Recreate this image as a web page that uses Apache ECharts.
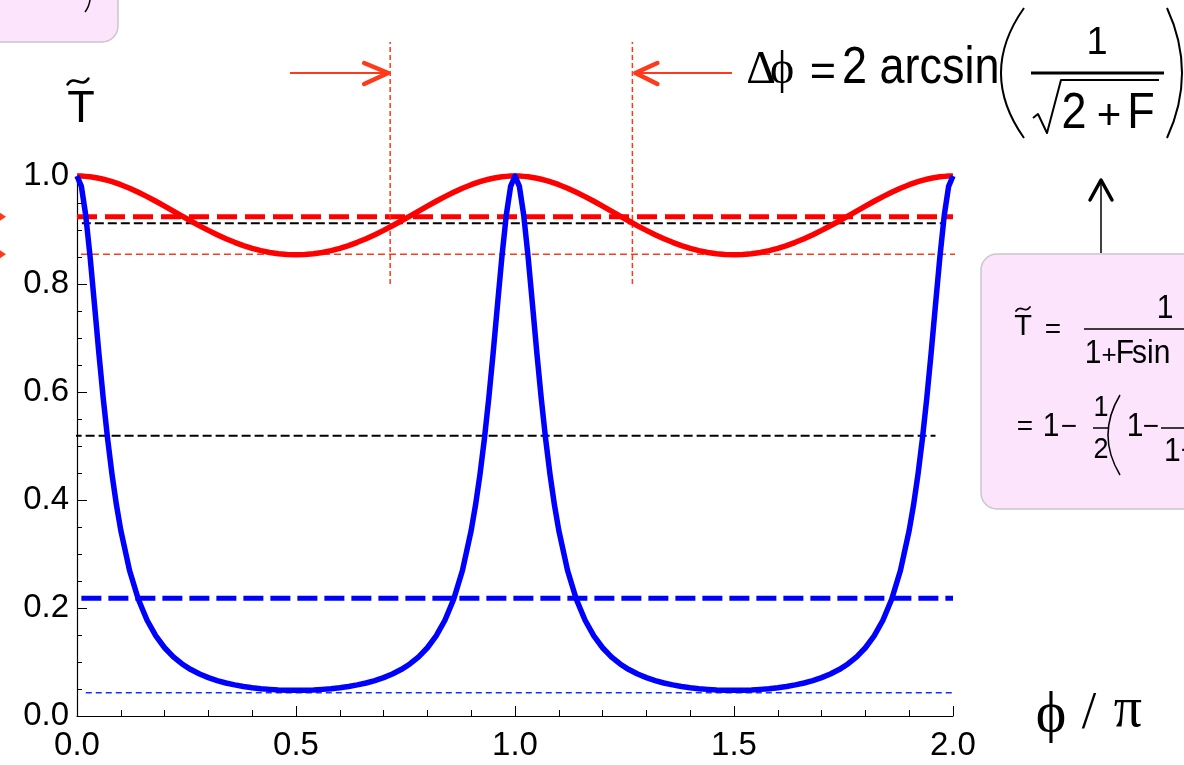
<!DOCTYPE html>
<html>
<head>
<meta charset="utf-8">
<script src="https://cdn.jsdelivr.net/npm/echarts@6/dist/echarts.min.js"></script>
<style>
  html, body { margin: 0; padding: 0; background: #fff; }
  #chart { width: 1184px; height: 765px; }
</style>
</head>
<body>
<div id="chart"></div>
<script>
// Phase φ/π sample positions (denser around the transmission peaks)
const phi = [
  0, 0.01, 0.02, 0.03, 0.04, 0.05, 0.06, 0.07, 0.08, 0.09, 0.10,
  0.12, 0.14, 0.16, 0.18, 0.20, 0.22, 0.24, 0.26, 0.28, 0.30, 0.32, 0.34, 0.36, 0.38, 0.40,
  0.42, 0.44, 0.46, 0.48, 0.50, 0.52, 0.54, 0.56, 0.58, 0.60, 0.62, 0.64, 0.66, 0.68, 0.70,
  0.72, 0.74, 0.76, 0.78, 0.80, 0.82, 0.84, 0.86, 0.88,
  0.90, 0.91, 0.92, 0.93, 0.94, 0.95, 0.96, 0.97, 0.98, 0.99, 1.00,
  1.01, 1.02, 1.03, 1.04, 1.05, 1.06, 1.07, 1.08, 1.09, 1.10,
  1.12, 1.14, 1.16, 1.18, 1.20, 1.22, 1.24, 1.26, 1.28, 1.30, 1.32, 1.34, 1.36, 1.38, 1.40,
  1.42, 1.44, 1.46, 1.48, 1.50, 1.52, 1.54, 1.56, 1.58, 1.60, 1.62, 1.64, 1.66, 1.68, 1.70,
  1.72, 1.74, 1.76, 1.78, 1.80, 1.82, 1.84, 1.86, 1.88,
  1.90, 1.91, 1.92, 1.93, 1.94, 1.95, 1.96, 1.97, 1.98, 1.99, 2.00
];

// Transmission, high finesse (blue)
const tHighF = [
  1, 0.9807, 0.9269, 0.8495, 0.7609, 0.6714, 0.5875, 0.5124, 0.4470, 0.3911, 0.3437,
  0.2695, 0.2162, 0.1773, 0.1483, 0.1264, 0.1096, 0.0964, 0.0860, 0.0777, 0.0710, 0.0655, 0.0611, 0.0576, 0.0547, 0.0524,
  0.0506, 0.0493, 0.0483, 0.0478, 0.0476, 0.0478, 0.0483, 0.0493, 0.0506, 0.0524, 0.0547, 0.0576, 0.0611, 0.0655, 0.0710,
  0.0777, 0.0860, 0.0964, 0.1096, 0.1264, 0.1483, 0.1773, 0.2162, 0.2695,
  0.3437, 0.3911, 0.4470, 0.5124, 0.5875, 0.6714, 0.7609, 0.8495, 0.9269, 0.9807, 1,
  0.9807, 0.9269, 0.8495, 0.7609, 0.6714, 0.5875, 0.5124, 0.4470, 0.3911, 0.3437,
  0.2695, 0.2162, 0.1773, 0.1483, 0.1264, 0.1096, 0.0964, 0.0860, 0.0777, 0.0710, 0.0655, 0.0611, 0.0576, 0.0547, 0.0524,
  0.0506, 0.0493, 0.0483, 0.0478, 0.0476, 0.0478, 0.0483, 0.0493, 0.0506, 0.0524, 0.0547, 0.0576, 0.0611, 0.0655, 0.0710,
  0.0777, 0.0860, 0.0964, 0.1096, 0.1264, 0.1483, 0.1773, 0.2162, 0.2695,
  0.3437, 0.3911, 0.4470, 0.5124, 0.5875, 0.6714, 0.7609, 0.8495, 0.9269, 0.9807, 1
];

// Transmission, low finesse (red)
const tLowF = [
  1, 0.9998, 0.9993, 0.9985, 0.9973, 0.9958, 0.9940, 0.9919, 0.9895, 0.9869, 0.9839,
  0.9774, 0.9699, 0.9618, 0.9532, 0.9442, 0.9350, 0.9258, 0.9167, 0.9078, 0.8993, 0.8913, 0.8839, 0.8772, 0.8712, 0.8660,
  0.8618, 0.8584, 0.8559, 0.8545, 0.8540, 0.8545, 0.8559, 0.8584, 0.8618, 0.8660, 0.8712, 0.8772, 0.8839, 0.8913, 0.8993,
  0.9078, 0.9167, 0.9258, 0.9350, 0.9442, 0.9532, 0.9618, 0.9699, 0.9774,
  0.9839, 0.9869, 0.9895, 0.9919, 0.9940, 0.9958, 0.9973, 0.9985, 0.9993, 0.9998, 1,
  0.9998, 0.9993, 0.9985, 0.9973, 0.9958, 0.9940, 0.9919, 0.9895, 0.9869, 0.9839,
  0.9774, 0.9699, 0.9618, 0.9532, 0.9442, 0.9350, 0.9258, 0.9167, 0.9078, 0.8993, 0.8913, 0.8839, 0.8772, 0.8712, 0.8660,
  0.8618, 0.8584, 0.8559, 0.8545, 0.8540, 0.8545, 0.8559, 0.8584, 0.8618, 0.8660, 0.8712, 0.8772, 0.8839, 0.8913, 0.8993,
  0.9078, 0.9167, 0.9258, 0.9350, 0.9442, 0.9532, 0.9618, 0.9699, 0.9774,
  0.9839, 0.9869, 0.9895, 0.9919, 0.9940, 0.9958, 0.9973, 0.9985, 0.9993, 0.9998, 1
];

// Horizontal reference levels: red mean, red half level, red minimum,
// blue half level, blue mean, blue minimum
const refLevels = [0.9246, 0.9124, 0.855, 0.519, 0.218, 0.0432];
const refStart  = [0.0, 0.011, 0.009, -0.01, 0.01, 0.02];
const refEnd    = [2.0, 1.975, 2.011, 1.96, 2.0, 2.01];

// Width markers (φ/π) where the red curve crosses its half level
const widthMarkers = [0.715, 1.268];
const markerSpan = [0.8, 1.248];

// Axis ticks
const xTicks = [0, 0.5, 1.0, 1.5, 2.0];
const yTicks = [0, 0.2, 0.4, 0.6, 0.8, 1.0];

const SANS = '"Liberation Sans", Arial, Helvetica, sans-serif';
const SERIF = '"Liberation Serif", "DejaVu Serif", "Times New Roman", serif';
const ORANGE_RED = '#ff3a1a';

const refStyles = [
  { color: '#ff0000', width: 5, type: [20, 8] },
  { color: '#000000', width: 2, type: [9, 4] },
  { color: ORANGE_RED, width: 1.5, type: [7, 4] },
  { color: '#000000', width: 2, type: [9, 4] },
  { color: '#0000ff', width: 5, type: [20, 7] },
  { color: '#1030ff', width: 1.5, type: [6, 4] }
];

const chart = echarts.init(document.getElementById('chart'), null, { renderer: 'canvas' });

const series = [];
refLevels.forEach((lv, i) => {
  series.push({
    type: 'line', silent: true, symbol: 'none', clip: false, z: 2,
    data: [[refStart[i], lv], [refEnd[i], lv]],
    lineStyle: refStyles[i]
  });
});
widthMarkers.forEach(x => {
  series.push({
    type: 'line', silent: true, symbol: 'none', clip: false, z: 2,
    data: [[x, markerSpan[0]], [x, markerSpan[1]]],
    lineStyle: { color: ORANGE_RED, width: 1.5, type: [5, 3] }
  });
});
series.push({
  type: 'line', silent: true, symbol: 'none', clip: false, z: 3,
  data: phi.map((x, i) => [x, tLowF[i]]),
  lineStyle: { color: '#ff0000', width: 5.5, join: 'round' }
});
series.push({
  type: 'line', silent: true, symbol: 'none', clip: false, z: 4,
  data: phi.map((x, i) => [x, tHighF[i]]),
  lineStyle: { color: '#0000ff', width: 5.5, join: 'round' }
});

const axisCommon = {
  type: 'value',
  splitLine: { show: false },
  axisLine: { show: true, onZero: false, lineStyle: { color: '#000', width: 1.2 } },
  axisTick: { show: true, inside: true, length: 10, lineStyle: { color: '#000', width: 1 } },
  minorTick: { show: true, length: 5, lineStyle: { color: '#000', width: 1 } },
  axisLabel: {
    color: '#000', fontSize: 33, fontFamily: SANS,
    showMinLabel: true, showMaxLabel: true,
    formatter: v => v.toFixed(1)
  }
};

chart.setOption({
  animation: false,
  backgroundColor: '#ffffff',
  grid: { left: 77, right: 231, top: 176, bottom: 49, containLabel: false, outerBoundsMode: 'none' },
  xAxis: echarts.util.merge({
    min: xTicks[0], max: xTicks[xTicks.length - 1], interval: xTicks[1] - xTicks[0],
    minorTick: { splitNumber: 5, length: 6 },
    axisLabel: { margin: 13 }
  }, axisCommon),
  yAxis: echarts.util.merge({
    min: yTicks[0], max: yTicks[yTicks.length - 1], interval: yTicks[1] - yTicks[0],
    minorTick: { splitNumber: 4 },
    axisLabel: { margin: 8 }
  }, axisCommon),
  series: series
});

// ---- annotations ----
function txt(x, y, s, size, family, align, sy) {
  return {
    type: 'text', x: x, y: y, scaleY: sy || 1, silent: true, z: 100,
    style: { text: s, fontSize: size, fontFamily: family, fill: '#000', align: align || 'center', verticalAlign: 'middle' }
  };
}
function poly(points, color, width, cap) {
  return {
    type: 'polyline', silent: true, z: 100, shape: { points: points },
    style: { stroke: color, lineWidth: width, fill: null, lineCap: cap || 'round', lineJoin: 'round' }
  };
}
function quad(x1, y1, cx, cy, x2, y2, w) {
  return {
    type: 'bezierCurve', silent: true, z: 100,
    shape: { x1: x1, y1: y1, cpx1: cx, cpy1: cy, x2: x2, y2: y2 },
    style: { stroke: '#000', lineWidth: w, fill: null }
  };
}
function tilde(cx, cy, w, h, lw) {
  return {
    type: 'bezierCurve', silent: true, z: 100,
    shape: { x1: cx - w / 2, y1: cy + h / 2, cpx1: cx - w / 6, cpy1: cy - h * 1.3,
             cpx2: cx + w / 6, cpy2: cy + h * 1.3, x2: cx + w / 2, y2: cy - h / 2 },
    style: { stroke: '#000', lineWidth: lw, fill: null, lineCap: 'round' }
  };
}

const px = (x, y) => chart.convertToPixel({ gridIndex: 0 }, [x, y]);
const lineL = px(widthMarkers[0], 1)[0];
const lineR = px(widthMarkers[1], 1)[0];
const yRedMean = px(0, refLevels[0])[1];
const yRedMin = px(0, refLevels[2])[1];
const arrowY = 73;

const g = [];

// pink boxes
g.push({ type: 'rect', silent: true, z: 50, shape: { x: -30, y: -40, width: 148, height: 82, r: 16 },
         style: { fill: '#fce4fc', stroke: '#c8c8c8', lineWidth: 1.5 } });
g.push({ type: 'rect', silent: true, z: 50, shape: { x: 981, y: 254, width: 260, height: 255, r: 16 },
         style: { fill: '#fce4fc', stroke: '#c8c8c8', lineWidth: 1.5 } });
g.push(quad(90, 0, 89, 7, 85, 12, 1.5));

// axis titles
g.push(txt(81, 110, 'T', 45, SANS, 'center'));
g.push(tilde(78, 81.5, 21, 6, 2.5));
g.push(txt(1051, 716, 'ϕ', 58, SERIF, 'center'));
g.push(txt(1089, 714, '/', 52, SERIF, 'center'));
g.push(txt(1128, 711, 'π', 56, SERIF, 'center'));

// width arrows pointing at the markers
g.push(poly([[290, arrowY], [lineL - 2, arrowY]], ORANGE_RED, 2, 'butt'));
g.push(poly([[lineL - 26, arrowY - 10], [lineL - 2, arrowY], [lineL - 26, arrowY + 11]], ORANGE_RED, 4.5));
g.push(poly([[732, arrowY], [lineR + 3, arrowY]], ORANGE_RED, 2, 'butt'));
g.push(poly([[lineR + 25, arrowY - 10], [lineR + 3, arrowY], [lineR + 25, arrowY + 11]], ORANGE_RED, 4.5));

// arrowheads entering from the left edge
[yRedMean, yRedMin].forEach(y => {
  g.push({ type: 'polygon', silent: true, z: 100, shape: { points: [[0, y - 4], [6, y], [0, y + 4]] },
           style: { fill: ORANGE_RED } });
});

// Δϕ = 2 arcsin(1/√(2+F))
g.push(txt(761, 71, 'Δ', 46, SERIF, 'center'));
g.push(txt(782, 71, 'ϕ', 46, SERIF, 'center'));
g.push(txt(823, 73, '=', 45, SANS, 'center', 1.0));
g.push(txt(842, 69, '2 arcsin', 45, SANS, 'left', 1.15));
g.push(quad(1024, 8, 978, 73, 1024, 138, 2));
g.push(quad(1167, 8, 1197, 73, 1167, 138, 2));
g.push(txt(1097, 44, '1', 38, SANS, 'center', 1.0));
g.push(poly([[1031, 73], [1164, 73]], '#000', 3, 'butt'));
g.push(poly([[1033, 118], [1038, 114], [1047, 133], [1061, 80], [1159, 80]], '#000', 2, 'butt'));
g.push(txt(1074, 114, '2', 45, SANS, 'center', 1.1));
g.push(txt(1109, 117, '+', 42, SANS, 'center'));
g.push(txt(1141, 114, 'F', 45, SANS, 'center', 1.1));

// up arrow to the formula box
g.push(poly([[1101, 253], [1101, 181]], '#000', 1.5, 'butt'));
g.push(poly([[1090, 200], [1101, 180], [1112, 200]], '#000', 3.5));

// formula box contents
g.push(txt(1023, 327, 'T', 29, SANS, 'center'));
g.push(tilde(1023, 309, 14, 4, 1.8));
g.push(txt(1053, 330, '=', 28, SANS, 'center'));
g.push(txt(1165, 309, '1', 30, SANS, 'center', 1.1));
g.push(poly([[1084, 329], [1190, 329]], '#000', 1.5, 'butt'));
g.push(txt(1093, 354, '1', 30, SANS, 'center', 1.1));
g.push(txt(1109, 356, '+', 26, SANS, 'center'));
g.push(txt(1125, 354, 'F', 30, SANS, 'center', 1.1));
g.push(txt(1132, 354, 'sin', 30, SANS, 'left', 1.1));

g.push(txt(1025, 427, '=', 28, SANS, 'center'));
g.push(txt(1051, 427, '1', 30, SANS, 'center', 1.1));
g.push(txt(1069, 427, '−', 28, SANS, 'center'));
g.push(txt(1101, 408, '1', 27, SANS, 'center', 1.1));
g.push(poly([[1093, 428], [1108, 428]], '#000', 1.5, 'butt'));
g.push(txt(1101, 450, '2', 27, SANS, 'center', 1.1));
g.push(quad(1120, 395, 1096, 435, 1120, 475, 1.5));
g.push(txt(1135, 427, '1', 30, SANS, 'center', 1.1));
g.push(txt(1151, 427, '−', 28, SANS, 'center'));
g.push(poly([[1161, 428], [1190, 428]], '#000', 1.5, 'butt'));
g.push(txt(1164, 452, '1+', 30, SANS, 'left', 1.1));

chart.setOption({ graphic: { elements: g } });
</script>
</body>
</html>
